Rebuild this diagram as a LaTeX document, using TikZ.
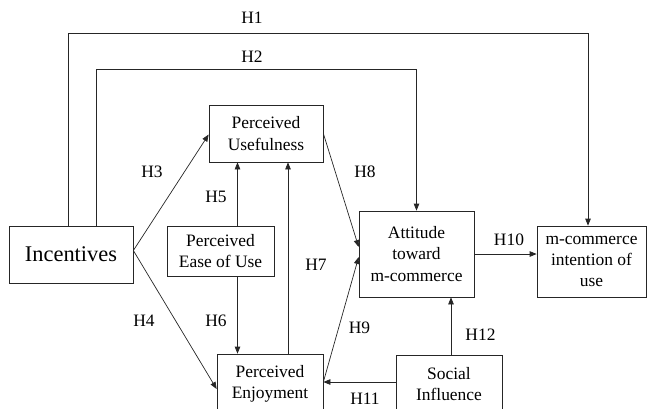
\documentclass[tikz,border=0pt]{standalone}
\usepackage{fontspec}
\setmainfont{Liberation Serif}
\usetikzlibrary{arrows.meta}

\begin{document}
\begin{tikzpicture}[
    x=1bp, y=-1bp,
    box/.style={rectangle, draw=black!85, line width=0.7bp, align=center, inner sep=0pt, font=\fontsize{17.5}{21.5}\selectfont},
    bigbox/.style={box, font=\fontsize{22.5}{26}\selectfont},
    arrow/.style={draw=black!85, line width=0.7bp, -{Triangle[length=7bp, width=5.5bp]}},
    hyp/.style={inner sep=0pt, font=\fontsize{17.5}{20}\selectfont}
]
\clip (0,0) rectangle (647,408);

% Constructs
\node[bigbox, minimum width=124bp, minimum height=57bp] (inc) at (71,254.5) {Incentives};
\node[box, minimum width=114bp, minimum height=57bp] (pu) at (266,133.5) {Perceived\\Usefulness};
\node[box, minimum width=107bp, minimum height=50bp] (peou) at (220.5,251) {Perceived\\Ease of Use};
\node[box, minimum width=106bp, minimum height=60bp] (pe) at (270,384) {Perceived\\Enjoyment};
\node[box, minimum width=115bp, minimum height=86bp] (att) at (416.5,254) {Attitude\\toward\\m-commerce};
\node[box, minimum width=109bp, minimum height=71bp] (mci) at (591.5,261.5) {m-commerce\\intention of\\use};
\node[box, minimum width=106bp, minimum height=58bp] (si) at (449,384) {Social\\Influence};

% Hypotheses
\node[hyp] (h1) at (252,18) {H1};
\node[hyp] (h2) at (252,57) {H2};
\node[hyp] (h3) at (152,172) {H3};
\node[hyp] (h4) at (144,321) {H4};
\node[hyp] (h5) at (216,197) {H5};
\node[hyp] (h6) at (216,321) {H6};
\node[hyp] (h7) at (316,265) {H7};
\node[hyp] (h8) at (365,172) {H8};
\node[hyp] (h9) at (359.5,328) {H9};
\node[hyp] (h10) at (509,240) {H10};
\node[hyp] (h11) at (365,399) {H11};
\node[hyp] (h12) at (480.5,335) {H12};

% Connections
\draw[arrow] ([xshift=-3bp]inc.north) -- ++(0,-192) -| ([xshift=-3.5bp]mci.north);
\draw[arrow] ([xshift=25bp]inc.north) -- ++(0,-156) -| (att.north);
\draw[arrow] ([yshift=4bp]inc.east) -- ([yshift=-1bp]pu.west);
\draw[arrow] ([yshift=4bp]inc.east) -- ([yshift=-5bp]pe.west);
\draw[arrow] ([xshift=17bp]peou.north) -- ([xshift=17bp]peou.north |- pu.south);
\draw[arrow] ([xshift=17bp]peou.south) -- ([xshift=17bp]peou.south |- pe.north);
\draw[arrow] ([xshift=18bp]pe.north) -- ([xshift=18bp]pe.north |- pu.south);
\draw[arrow] (pu.east) -- ([yshift=7bp]att.west);
\draw[arrow] ([yshift=2bp]pe.east) -- ([yshift=-3bp]att.west);
\draw[arrow] (att.east) -- (att.east -| mci.west);
\draw[arrow] ([yshift=2bp]si.west) -- ([yshift=2bp]si.west -| pe.east);
\draw[arrow] ([xshift=2bp]si.north) -- ([xshift=2bp]si.north |- att.south);

\end{tikzpicture}
\end{document}
